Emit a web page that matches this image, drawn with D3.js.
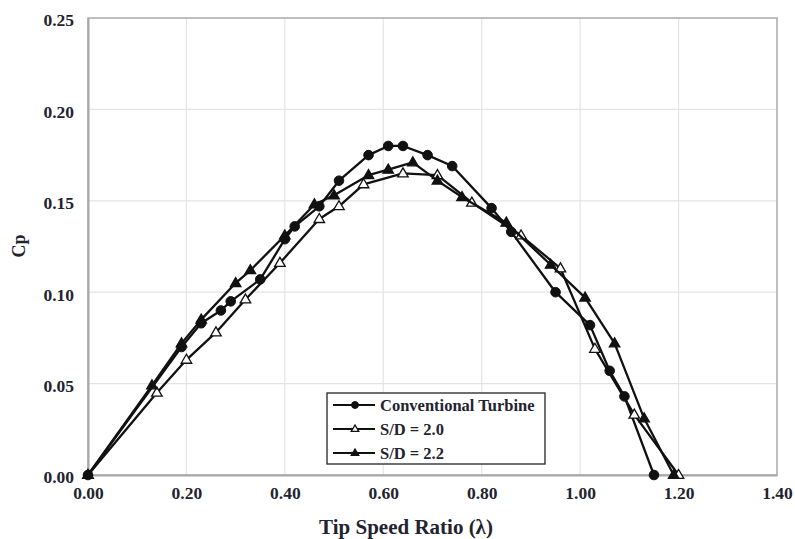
<!DOCTYPE html>
<html>
<head>
<meta charset="utf-8">
<script src="https://cdn.jsdelivr.net/npm/d3@7"></script>
<style>
  html, body { margin: 0; padding: 0; background: #fff; }
  svg { display: block; }
</style>
</head>
<body>
<svg id="chart" width="795" height="539"></svg>
<script>
// Power coefficient vs tip speed ratio for three turbine configurations
const conventionalTSR = [0.00, 0.19, 0.23, 0.27, 0.29, 0.35, 0.40, 0.42, 0.47, 0.51, 0.57, 0.61, 0.64, 0.69, 0.74, 0.82, 0.86, 0.95, 1.02, 1.06, 1.09, 1.15];
const conventionalCp  = [0.000, 0.070, 0.083, 0.090, 0.095, 0.107, 0.129, 0.136, 0.147, 0.161, 0.175, 0.180, 0.180, 0.175, 0.169, 0.146, 0.133, 0.100, 0.082, 0.057, 0.043, 0.000];

const sd20TSR = [0.00, 0.14, 0.20, 0.26, 0.32, 0.39, 0.47, 0.51, 0.56, 0.64, 0.71, 0.78, 0.88, 0.96, 1.03, 1.11, 1.20];
const sd20Cp  = [0.000, 0.045, 0.063, 0.078, 0.096, 0.116, 0.140, 0.147, 0.159, 0.165, 0.164, 0.149, 0.131, 0.113, 0.069, 0.033, 0.000];

const sd22TSR = [0.00, 0.13, 0.19, 0.23, 0.30, 0.33, 0.40, 0.46, 0.50, 0.57, 0.61, 0.66, 0.71, 0.76, 0.85, 0.94, 1.01, 1.07, 1.13, 1.19];
const sd22Cp  = [0.000, 0.049, 0.072, 0.085, 0.105, 0.112, 0.131, 0.148, 0.153, 0.164, 0.167, 0.171, 0.161, 0.152, 0.138, 0.115, 0.097, 0.072, 0.031, 0.000];

const xTicks = [0.0, 0.2, 0.4, 0.6, 0.8, 1.0, 1.2, 1.4];
const yTicks = [0.00, 0.05, 0.10, 0.15, 0.20, 0.25];

const seriesNames = ["Conventional Turbine", "S/D = 2.0", "S/D = 2.2"];
const seriesTSR = [conventionalTSR, sd20TSR, sd22TSR];
const seriesCp = [conventionalCp, sd20Cp, sd22Cp];
const seriesMarker = ["circle", "openTriangle", "triangle"];

const svg = d3.select("#chart");
const plotLeft = 88, plotRight = 777, plotTop = 18, plotBottom = 475;

const x = d3.scaleLinear().domain([0, 1.4]).range([plotLeft, plotRight]);
const y = d3.scaleLinear().domain([0, 0.25]).range([plotBottom, plotTop]);

const serif = "'Liberation Serif', 'Times New Roman', serif";
const textColor = "#23232f";

// Gridlines
svg.append("g")
  .selectAll("line")
  .data(xTicks.slice(1, -1))
  .join("line")
  .attr("x1", d => x(d)).attr("x2", d => x(d))
  .attr("y1", plotTop).attr("y2", plotBottom)
  .attr("stroke", "#e4e4e4").attr("stroke-width", 1.2);

svg.append("g")
  .selectAll("line")
  .data(yTicks.slice(1, -1))
  .join("line")
  .attr("x1", plotLeft).attr("x2", plotRight)
  .attr("y1", d => y(d)).attr("y2", d => y(d))
  .attr("stroke", "#e4e4e4").attr("stroke-width", 1.2);

// Plot frame
svg.append("rect")
  .attr("x", plotLeft).attr("y", plotTop)
  .attr("width", plotRight - plotLeft).attr("height", plotBottom - plotTop)
  .attr("fill", "none").attr("stroke", "#b0b0b0").attr("stroke-width", 1.6);

// Axes
const xAxis = d3.axisBottom(x).tickValues(xTicks).tickFormat(d3.format(".2f")).tickSize(0).tickPadding(12);
const gx = svg.append("g").attr("transform", `translate(0,${plotBottom})`).call(xAxis);
gx.select(".domain").attr("stroke", "#a8a8a8").attr("stroke-width", 2.2);
gx.selectAll("text").attr("font-family", serif).attr("font-weight", "bold")
  .attr("font-size", 17.5).attr("fill", textColor);

const yAxis = d3.axisLeft(y).tickValues(yTicks).tickFormat(d3.format(".2f")).tickSize(0).tickPadding(14);
const gy = svg.append("g").attr("transform", `translate(${plotLeft},0)`).call(yAxis);
gy.select(".domain").attr("stroke", "#a8a8a8").attr("stroke-width", 2);
gy.selectAll("text").attr("font-family", serif).attr("font-weight", "bold")
  .attr("font-size", 17.5).attr("fill", textColor).attr("dy", "0.45em");

// Axis titles
svg.append("text")
  .attr("x", 406).attr("y", 534)
  .attr("text-anchor", "middle")
  .attr("font-family", serif).attr("font-weight", "bold").attr("font-size", 21)
  .attr("fill", textColor)
  .text("Tip Speed Ratio (λ)");

svg.append("text")
  .attr("transform", `translate(25,246) rotate(-90)`)
  .attr("text-anchor", "middle")
  .attr("font-family", serif).attr("font-weight", "bold").attr("font-size", 18)
  .attr("fill", textColor)
  .text("Cp");

// Marker drawing
function drawMarker(g, type, cx, cy, scale) {
  const s = scale || 1;
  if (type === "circle") {
    g.append("circle").attr("cx", cx).attr("cy", cy).attr("r", 4.8 * s)
      .attr("fill", "#111").attr("stroke", "#111").attr("stroke-width", 1);
  } else {
    const h = 9 * s, w = 10.5 * s;
    const pts = [[cx, cy - h * 0.62], [cx - w / 2, cy + h * 0.38], [cx + w / 2, cy + h * 0.38]];
    g.append("path").attr("d", "M" + pts.map(p => p.join(",")).join("L") + "Z")
      .attr("fill", type === "triangle" ? "#111" : "#fff")
      .attr("stroke", "#111").attr("stroke-width", 1.3);
  }
}

const line = d3.line().x(d => x(d[0])).y(d => y(d[1]));

seriesNames.forEach((name, i) => {
  const pts = d3.zip(seriesTSR[i], seriesCp[i]);
  const g = svg.append("g");
  g.append("path").datum(pts).attr("d", line)
    .attr("fill", "none").attr("stroke", "#111").attr("stroke-width", 2.3)
    .attr("stroke-linejoin", "round");
  pts.forEach(p => drawMarker(g, seriesMarker[i], x(p[0]), y(p[1]), 1));
});

// Legend
const lg = svg.append("g");
lg.append("rect").attr("x", 327).attr("y", 393).attr("width", 218).attr("height", 71)
  .attr("fill", "#fff").attr("stroke", "#333").attr("stroke-width", 1.4);
seriesNames.forEach((name, i) => {
  const ly = 405 + i * 24;
  lg.append("line").attr("x1", 333).attr("x2", 375).attr("y1", ly).attr("y2", ly)
    .attr("stroke", "#111").attr("stroke-width", 2.2);
  drawMarker(lg, seriesMarker[i], 355, ly, 0.72);
  lg.append("text").attr("x", 380).attr("y", ly + 5.5)
    .attr("font-family", serif).attr("font-weight", "bold").attr("font-size", 16.5)
    .attr("fill", textColor).text(name);
});
</script>
</body>
</html>
